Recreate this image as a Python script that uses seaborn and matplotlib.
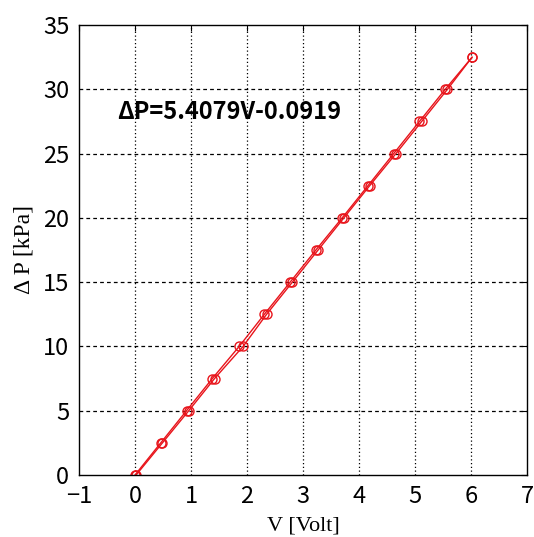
import matplotlib
matplotlib.use("Agg")
import matplotlib.pyplot as plt
import seaborn as sns
import pandas as pd

# data
dp_kpa = [0, 2.5, 5, 7.5, 10, 12.5, 15, 17.5, 20, 22.5, 25, 27.5, 30, 32.5]
v_up = [0.00, 0.46, 0.92, 1.38, 1.86, 2.31, 2.77, 3.23, 3.70, 4.16, 4.62, 5.08, 5.54, 6.02]
v_down = [0.02, 0.49, 0.96, 1.42, 1.93, 2.35, 2.81, 3.27, 3.73, 4.19, 4.66, 5.12, 5.58, 6.02]
x_ticks = [-1, 0, 1, 2, 3, 4, 5, 6, 7]
y_ticks = [0, 5, 10, 15, 20, 25, 30, 35]
fit_text = "ΔP=5.4079V-0.0919"

sns.set_style("white")
plt.rcParams['font.family'] = ['Noto Sans CJK JP', 'DejaVu Sans']
plt.rcParams['text.color'] = 'black'
plt.rcParams['axes.labelcolor'] = 'black'

fig = plt.figure(figsize=(5.34, 5.37), dpi=100)
ax = fig.add_axes([79/534, 1-475/537, (527-79)/534, (475-25)/537])

red = "#e8141b"
df_up = pd.DataFrame({"V": v_up, "dP": dp_kpa})
df_down = pd.DataFrame({"V": v_down, "dP": dp_kpa})
for d in (df_up, df_down):
    sns.lineplot(data=d, x="V", y="dP", ax=ax, sort=False, color=red,
                 linewidth=1.0, marker="o", markersize=6.5,
                 markerfacecolor="none", markeredgecolor=red,
                 markeredgewidth=1.0, estimator=None)

ax.set_xlim(-1, 7)
ax.set_ylim(0, 35)
ax.set_xticks(x_ticks)
ax.set_yticks(y_ticks)
ax.set_xticklabels(["\u2212" + str(abs(t)) if t < 0 else str(t) for t in x_ticks])
ax.tick_params(direction="in", top=True, right=True, length=4, width=0.8,
               labelsize=17, colors="black")
ax.tick_params(axis="y", pad=7)
ax.tick_params(axis="x", pad=7)
for lab in ax.get_xticklabels() + ax.get_yticklabels():
    lab.set_family(['Noto Sans CJK JP', 'DejaVu Sans'])
    lab.set_color("black")

for t in x_ticks[1:-1]:
    ax.axvline(t, color="black", linestyle=(0, (1, 2)), linewidth=0.9, zorder=0)
for t in y_ticks[1:-1]:
    ax.axhline(t, color="black", linestyle=(0, (3, 2.5)), linewidth=0.9, zorder=0)

for s in ax.spines.values():
    s.set_color("black")
    s.set_linewidth(1.0)

ax.set_xlabel("V [Volt]", family=["Liberation Serif"], fontsize=16, labelpad=6, color="black")
ax.set_ylabel("Δ P [kPa]", family=["Liberation Serif", "DejaVu Serif"], fontsize=17, labelpad=6, color="black")

ax.text(-0.32, 28.2, fit_text, fontsize=17, fontweight="bold", color="black",
        family=['Noto Sans CJK JP', 'DejaVu Sans'], va="center", ha="left")

fig.savefig("out.png", dpi=100)
